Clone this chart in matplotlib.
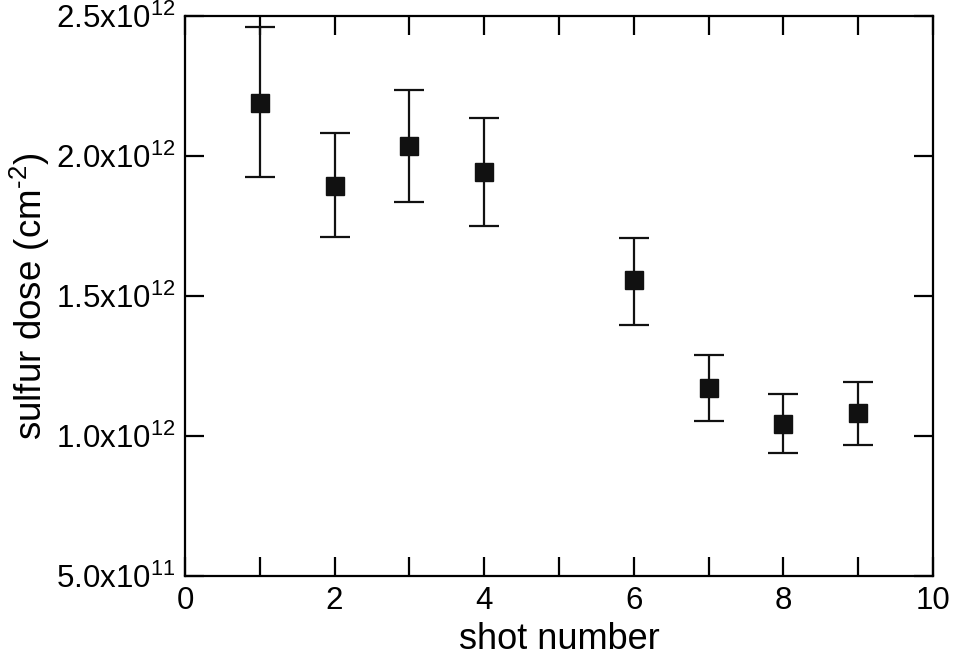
import matplotlib
matplotlib.use("Agg")
import matplotlib.pyplot as plt
import numpy as np
from matplotlib.ticker import FixedLocator, MultipleLocator

plt.rcParams['font.family'] = ['Liberation Sans', 'DejaVu Sans']
plt.rcParams['mathtext.default'] = 'regular'

shots = [1, 2, 3, 4, 6, 7, 8, 9]
dose = [2.190e12, 1.893e12, 2.034e12, 1.943e12, 1.557e12, 1.172e12, 1.043e12, 1.083e12]
upper = [2.461e12, 2.082e12, 2.236e12, 2.136e12, 1.707e12, 1.289e12, 1.149e12, 1.194e12]
lower = [1.925e12, 1.711e12, 1.836e12, 1.750e12, 1.396e12, 1.052e12, 0.939e12, 0.968e12]
ytick_vals = [5.0e11, 1.0e12, 1.5e12, 2.0e12, 2.5e12]
ytick_labels = ["5.0x10$^{11}$", "1.0x10$^{12}$", "1.5x10$^{12}$", "2.0x10$^{12}$", "2.5x10$^{12}$"]

fig = plt.figure(figsize=(9.55, 6.6), dpi=100)
ax = fig.add_axes([0.1937, 0.1273, 0.977 - 0.1937, 0.9758 - 0.1273])

d = np.array(dose)
yerr = [d - np.array(lower), np.array(upper) - d]
ax.errorbar(shots, dose, yerr=yerr, fmt='s', color='#111111', ms=13,
            ecolor='#111111', elinewidth=1.6, capsize=11, capthick=1.6)

ax.set_xlim(0, 10)
ax.set_ylim(5.0e11, 2.5e12)
ax.xaxis.set_major_locator(MultipleLocator(2))
ax.xaxis.set_minor_locator(MultipleLocator(1))
ax.yaxis.set_major_locator(FixedLocator(ytick_vals))
ax.set_yticklabels(ytick_labels)

for s in ax.spines.values():
    s.set_linewidth(1.6)
ax.tick_params(which='both', direction='in', length=14, width=1.6,
               top=True, right=True, labelsize=22.5, pad=7)

ax.set_xlabel("shot number", fontsize=26, labelpad=4.5)
ax.set_ylabel("sulfur dose (cm$^{\u20102}$)", fontsize=26.5, labelpad=3)

fig.savefig("out.png", dpi=100)
